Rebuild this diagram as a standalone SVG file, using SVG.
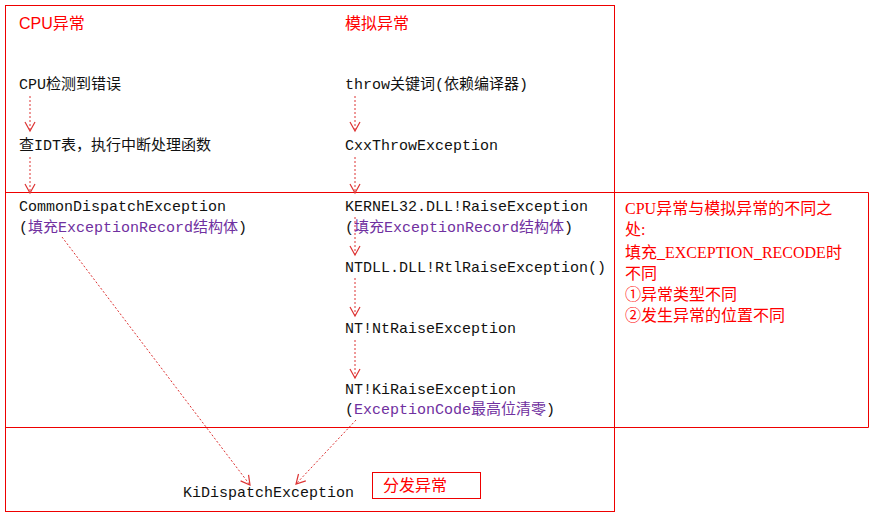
<svg xmlns="http://www.w3.org/2000/svg" width="874" height="520" viewBox="0 0 874 520">
<style>
.t{font-family:"Liberation Mono","Noto Sans CJK SC",monospace;font-size:15px;fill:#111}
.p{fill:#7030a0}
.r{font-family:"Liberation Sans","Noto Sans CJK SC",sans-serif;font-size:16px;fill:#f00}
.rs{font-family:"Liberation Serif","Noto Sans CJK SC",serif;font-size:16px;fill:#f00}
.b{fill:none;stroke:#e00;stroke-width:1}
.c{fill:none;stroke:#d33;stroke-width:1;stroke-dasharray:2 2;marker-end:url(#a)}
</style>
<defs><marker id="a" markerWidth="12" markerHeight="12" refX="10" refY="6" orient="auto" markerUnits="userSpaceOnUse"><path d="M1,1 L10,6 L1,11" fill="none" stroke="#d33" stroke-width="1.2"/></marker></defs>
<g id="frame">
<rect class="b" x="5.5" y="5.5" width="609" height="506"/>
<path class="b" d="M5,192.5H868.5V427.5H5M614.5,192V428"/>
<rect class="b" x="372.5" y="472.5" width="108" height="26"/>
</g>
<g id="connectors">
<path class="c" d="M30,96V131"/><path class="c" d="M30,157V193"/>
<path class="c" d="M355,96V131"/><path class="c" d="M355,157V193"/>
<path class="c" d="M355,217V255"/><path class="c" d="M355,278V316"/><path class="c" d="M355,340V378"/>
<path class="c" d="M62,237L250,485"/><path class="c" d="M356,420L296,484"/>
</g>
<g id="cpu"><text class="r" x="19" y="29">CPU异常</text></g>
<g id="sim"><text class="r" x="345" y="29">模拟异常</text></g>
<g id="n1"><text class="t" x="19" y="89">CPU检测到错误</text></g>
<g id="n2"><text class="t" x="19" y="150">查IDT表，执行中断处理函数</text></g>
<g id="n3"><text class="t" x="19" y="211">CommonDispatchException</text><text class="t" x="19" y="232">(<tspan class="p">填充ExceptionRecord结构体</tspan>)</text></g>
<g id="m1"><text class="t" x="345" y="89">throw关键词(依赖编译器)</text></g>
<g id="m2"><text class="t" x="345" y="150">CxxThrowException</text></g>
<g id="m3"><text class="t" x="345" y="211">KERNEL32.DLL!RaiseException</text><text class="t" x="345" y="232">(<tspan class="p">填充ExceptionRecord结构体</tspan>)</text></g>
<g id="m4"><text class="t" x="345" y="272">NTDLL.DLL!RtlRaiseException()</text></g>
<g id="m5"><text class="t" x="345" y="333">NT!NtRaiseException</text></g>
<g id="m6"><text class="t" x="345" y="394">NT!KiRaiseException</text><text class="t" x="345" y="414">(<tspan class="p">ExceptionCode最高位清零</tspan>)</text></g>
<g id="k"><text class="t" x="183" y="497">KiDispatchException</text></g>
<g id="fa"><text class="r" x="383" y="491">分发异常</text></g>
<g id="note">
<text class="rs" x="625" y="214">CPU异常与模拟异常的不同之</text>
<text class="rs" x="625" y="235">处:</text>
<text class="rs" x="625" y="258">填充_EXCEPTION_RECODE时</text>
<text class="rs" x="625" y="279">不同</text>
<text class="rs" x="625" y="300">①异常类型不同</text>
<text class="rs" x="625" y="321">②发生异常的位置不同</text>
</g>
</svg>
